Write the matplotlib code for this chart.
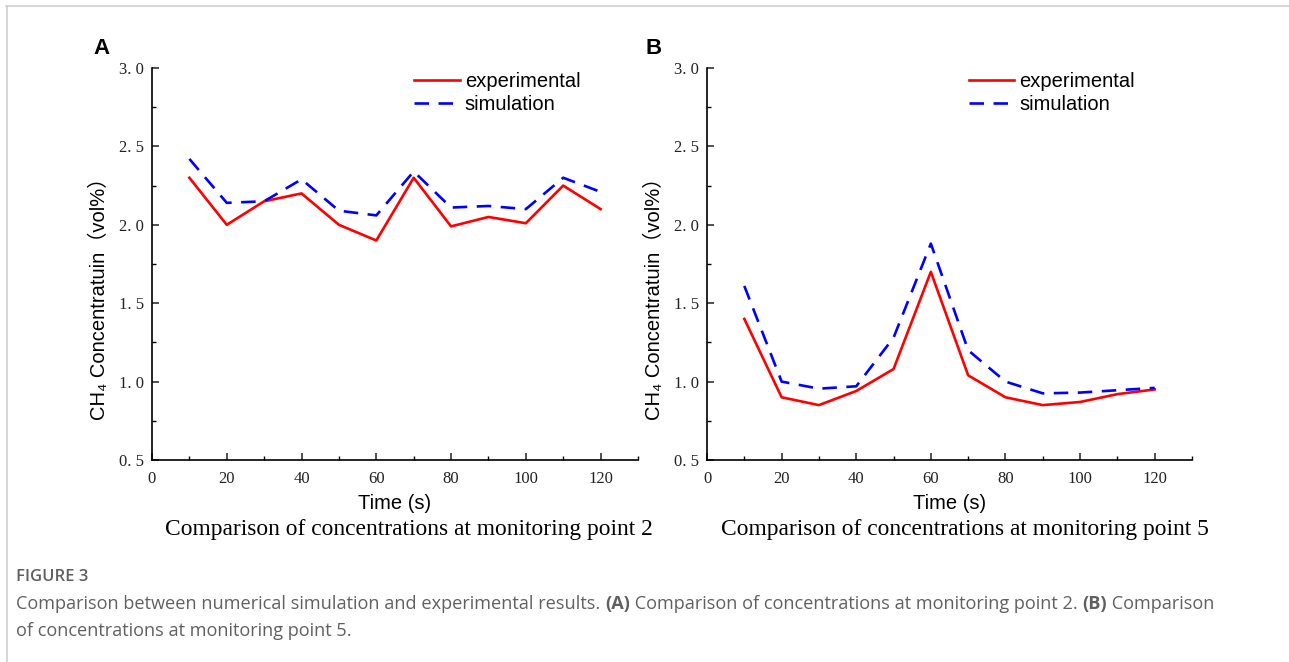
import numpy as np
import matplotlib
matplotlib.use("Agg")
import matplotlib.pyplot as plt
from matplotlib.lines import Line2D
from matplotlib.ticker import MultipleLocator, FuncFormatter

# -------------------------------
# Data
# -------------------------------
time_s = [10, 20, 30, 40, 50, 60, 70, 80, 90, 100, 110, 120]

exp_p2 = [2.30, 2.00, 2.15, 2.20, 2.00, 1.90, 2.30, 1.99, 2.05, 2.01, 2.25, 2.10]
sim_p2 = [2.42, 2.14, 2.15, 2.29, 2.09, 2.06, 2.34, 2.11, 2.12, 2.10, 2.30, 2.21]

exp_p5 = [1.40, 0.90, 0.85, 0.94, 1.08, 1.70, 1.04, 0.90, 0.85, 0.87, 0.92, 0.95]
sim_p5 = [1.61, 1.00, 0.955, 0.97, 1.28, 1.88, 1.20, 1.00, 0.925, 0.93, 0.945, 0.96]

panel_letters = ["A", "B"]
subtitles = [
    "Comparison of concentrations at monitoring point 2",
    "Comparison of concentrations at monitoring point 5",
]
legend_labels = ["experimental", "simulation"]

SANS = ["Liberation Sans", "DejaVu Sans"]
SANS_CJK = ["Liberation Sans", "Noto Sans CJK SC", "DejaVu Sans"]
SERIF = ["Liberation Serif", "DejaVu Serif"]

RED = "#ff0000"
BLUE = "#0000ff"


def tick_fmt(v, pos):
    return f"{v:.1f}".replace(".", ". ")


def draw_panel(ax, exp, sim):
    ax.plot(time_s, exp, color=RED, lw=1.9, label=legend_labels[0])
    ax.plot(time_s, sim, color=BLUE, lw=1.9, linestyle=(0, (5.5, 3.6)),
            label=legend_labels[1])

    ax.set_xlim(0, 130)
    ax.set_ylim(0.5, 3.0)
    ax.xaxis.set_major_locator(MultipleLocator(20))
    ax.xaxis.set_minor_locator(MultipleLocator(10))
    ax.yaxis.set_major_locator(MultipleLocator(0.5))
    ax.yaxis.set_minor_locator(MultipleLocator(0.25))
    ax.yaxis.set_major_formatter(FuncFormatter(tick_fmt))
    ax.xaxis.set_major_formatter(FuncFormatter(lambda v, p: f"{v:g}" if v <= 120 else ""))

    for s in ["top", "right"]:
        ax.spines[s].set_visible(False)
    for s in ["left", "bottom"]:
        ax.spines[s].set_linewidth(1.2)

    ax.tick_params(which="major", direction="in", length=5, width=1.1,
                   labelsize=12, colors="#222222")
    ax.tick_params(axis="x", which="major", pad=8)
    ax.tick_params(axis="y", which="major", pad=6)
    ax.tick_params(which="minor", direction="in", length=3, width=1.0)
    for lab in ax.get_xticklabels() + ax.get_yticklabels():
        lab.set_family(SERIF)

    ax.set_xlabel("Time (s)", family=SANS, fontsize=14.5, labelpad=5)
    ax.set_ylabel("CH\u2084 Concentratuin\uff08vol%\uff09", family=SANS_CJK, fontsize=14.5)
    ax.yaxis.set_label_coords(-0.088, 0.423)

    leg = ax.legend(loc="upper left", bbox_to_anchor=(0.54, 0.99), frameon=False,
                    borderpad=0, borderaxespad=0, handlelength=2.25,
                    handletextpad=0.25, labelspacing=0.2,
                    prop={"family": SANS, "size": 14.5})
    return leg


def main():
    fig = plt.figure(figsize=(12.89, 6.62), dpi=100)
    fig.patch.set_facecolor("white")

    ax_a = fig.add_axes([152 / 1289, 1 - 460 / 662, 486 / 1289, 392 / 662])
    ax_b = fig.add_axes([707 / 1289, 1 - 460 / 662, 485 / 1289, 392 / 662])

    draw_panel(ax_a, exp_p2, sim_p2)
    draw_panel(ax_b, exp_p5, sim_p5)

    # panel letters
    fig.text(101 / 1289, 1 - 49 / 662, panel_letters[0], family=SANS,
             fontsize=16, fontweight="bold", ha="center", va="center")
    fig.text(654 / 1289, 1 - 49 / 662, panel_letters[1], family=SANS,
             fontsize=16, fontweight="bold", ha="center", va="center")

    # subtitles under each panel
    fig.text(409 / 1289, 1 - 530 / 662, subtitles[0], family=SERIF,
             fontsize=16.9, ha="center", va="center")
    fig.text(965 / 1289, 1 - 530 / 662, subtitles[1], family=SERIF,
             fontsize=16.9, ha="center", va="center")

    # page frame lines
    fig.add_artist(Line2D([6 / 1289, 1], [1 - 5.5 / 662, 1 - 5.5 / 662],
                          transform=fig.transFigure, color="#d0d0d0", lw=1.2))
    fig.add_artist(Line2D([6.5 / 1289, 6.5 / 1289], [0, 1 - 5.5 / 662],
                          transform=fig.transFigure, color="#d0d0d0", lw=1.2))

    # caption
    cap_col = "#606060"
    cap_font = ["Open Sans", "DejaVu Sans"]
    fig.text(16 / 1289, 1 - 577 / 662, "FIGURE 3", family=cap_font, fontsize=12,
             fontweight="semibold", color=cap_col, va="center")

    pieces = [
        ("Comparison between numerical simulation and experimental results. ", "normal"),
        ("(A)", "bold"),
        (" Comparison of concentrations at monitoring point 2. ", "normal"),
        ("(B)", "bold"),
        (" Comparison", "normal"),
    ]
    fig.canvas.draw()
    renderer = fig.canvas.get_renderer()
    x = 16
    for txt, w in pieces:
        t = fig.text(x / 1289, 1 - 604 / 662, txt, family=cap_font, fontsize=13.1,
                     fontweight=w, color=cap_col, va="center")
        bb = t.get_window_extent(renderer)
        x += bb.width
    fig.text(16 / 1289, 1 - 631 / 662, "of concentrations at monitoring point 5.",
             family=cap_font, fontsize=13.1, color=cap_col, va="center")

    fig.savefig("out.png", dpi=100, facecolor="white")
    plt.close(fig)


if __name__ == "__main__":
    main()
